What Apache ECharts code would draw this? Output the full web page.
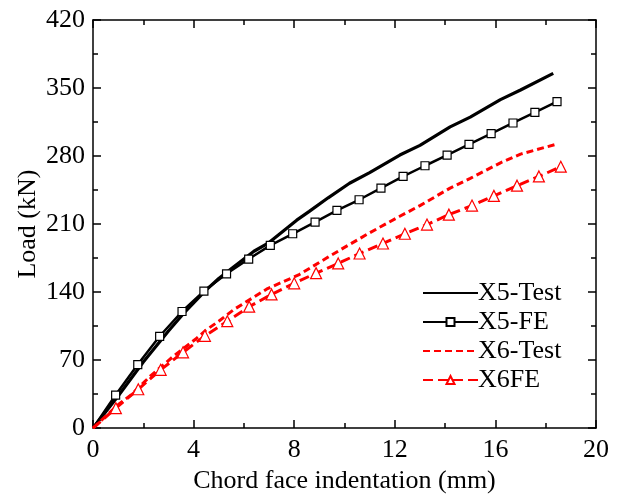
<!DOCTYPE html>
<html><head><meta charset="utf-8">
<script src="https://cdn.jsdelivr.net/npm/echarts@6/dist/echarts.min.js"></script>
<style>html,body{margin:0;padding:0;background:#fff}#c{width:623px;height:499px}</style>
</head><body><div id="c"></div>
<script>
const x5TestX = [0,1,2,3,3.6,4.45,5.0,5.6,6.4,7,8.1,8.6,9.35,10.2,11,12.2,13,14.2,15,16.2,17,18.3];
const x5TestY = [0,33,68,100,118,141,154,166,182,191,214,223,237,252,263,281,291,310,320,338,348,365];
const x5FEX = [0,0.9,1.78,2.65,3.54,4.41,5.31,6.19,7.05,7.94,8.83,9.7,10.58,11.45,12.33,13.2,14.08,14.95,15.83,16.7,17.57,18.45];
const x5FEY = [0,34,65.4,94.5,120,141,158.8,174,188,200,212,224,235,247,259,270,281,292,303,314,325,336];
const x6TestX = [0,0.5,1,1.5,2.3,3.2,4.1,4.5,5,5.6,6.9,8.2,9.35,10,11,12.2,13,14.2,15,16.2,17,18.4];
const x6TestY = [0,12,24,34,54,74,92,101,110,122,143,158,176,186,201,218,229,247,257,273,282,292];
const x6FEX = [0,0.91,1.8,2.69,3.58,4.45,5.34,6.21,7.1,8.0,8.87,9.75,10.6,11.53,12.4,13.28,14.15,15.07,15.94,16.86,17.73,18.6];
const x6FEY = [0,20.5,40,60,78,95,110,125,137.6,149,159.5,169.5,179.7,190,200,209.5,219.7,229,239,249.5,259,269];
const seriesNames = ['X5-Test','X5-FE','X6-Test','X6FE'];

function pairs(xs, ys){ return xs.map((x,i)=>[x, ys[i]]); }
function pairsNoFirstSymbol(xs, ys){ return xs.map((x,i)=> i===0 ? {value:[x,ys[i]], symbol:'none'} : [x, ys[i]]); }

const FONT = 'Liberation Serif';
const FS = 26;
const chart = echarts.init(document.getElementById('c'), null, {renderer:'canvas'});
function axisStyle(extra){
  return Object.assign({
    axisLine:{show:true, onZero:false, lineStyle:{color:'#000', width:1.5}},
    axisTick:{show:true, inside:true, length:8, lineStyle:{color:'#000', width:1.5}},
    minorTick:{show:true, splitNumber:2, length:5, lineStyle:{color:'#000', width:1.5}},
    splitLine:{show:false}
  }, extra);
}
chart.setOption({
  animation:false,
  textStyle:{fontFamily:FONT},
  grid:{left:93, right:27, top:20, bottom:70, containLabel:false},
  legend:{
    orient:'vertical', left:417, top:275, itemWidth:55, itemHeight:10, itemGap:3,
    textStyle:{fontFamily:FONT, fontSize:FS, color:'#000', padding:[0,0,0,-5]},
    data:[
      {name:seriesNames[0], itemStyle:{opacity:0}},
      {name:seriesNames[1]},
      {name:seriesNames[2], itemStyle:{opacity:0}},
      {name:seriesNames[3]}
    ]
  },
  xAxis:[
    axisStyle({type:'value', min:0, max:20, interval:4, position:'bottom',
      name:'Chord face indentation (mm)', nameLocation:'middle', nameGap:36,
      nameTextStyle:{fontFamily:FONT, fontSize:FS, color:'#000'},
      axisLabel:{fontFamily:FONT, fontSize:FS, color:'#000', margin:9}}),
    axisStyle({type:'value', min:0, max:20, interval:4, position:'top', axisLabel:{show:false}})
  ],
  yAxis:[
    axisStyle({type:'value', min:0, max:420, interval:70, position:'left',
      name:'Load (kN)', nameLocation:'middle', nameGap:52, nameMoveOverlap:false,
      nameTextStyle:{fontFamily:FONT, fontSize:FS, color:'#000'},
      axisLabel:{fontFamily:FONT, fontSize:FS, color:'#000', margin:8}}),
    axisStyle({type:'value', min:0, max:420, interval:70, position:'right', axisLabel:{show:false}})
  ],
  series:[
    {name:seriesNames[0], type:'line', data:pairs(x5TestX,x5TestY), symbol:'none',
      lineStyle:{color:'#000', width:3.2}, itemStyle:{color:'#000'}},
    {name:seriesNames[1], type:'line', data:pairsNoFirstSymbol(x5FEX,x5FEY), symbol:'rect', symbolSize:8, showAllSymbol:true,
      lineStyle:{color:'#000', width:2.5}, itemStyle:{color:'#fff', borderColor:'#000', borderWidth:1.2}},
    {name:seriesNames[2], type:'line', data:pairs(x6TestX,x6TestY), symbol:'none',
      lineStyle:{color:'#ff0000', width:3, type:[7,4]}, itemStyle:{color:'#ff0000'}},
    {name:seriesNames[3], type:'line', data:pairsNoFirstSymbol(x6FEX,x6FEY), symbol:'triangle', symbolSize:11, showAllSymbol:true,
      lineStyle:{color:'#ff0000', width:3, type:[10,5]}, itemStyle:{color:'#fff', borderColor:'#ff0000', borderWidth:1.2}}
  ]
});
</script></body></html>
